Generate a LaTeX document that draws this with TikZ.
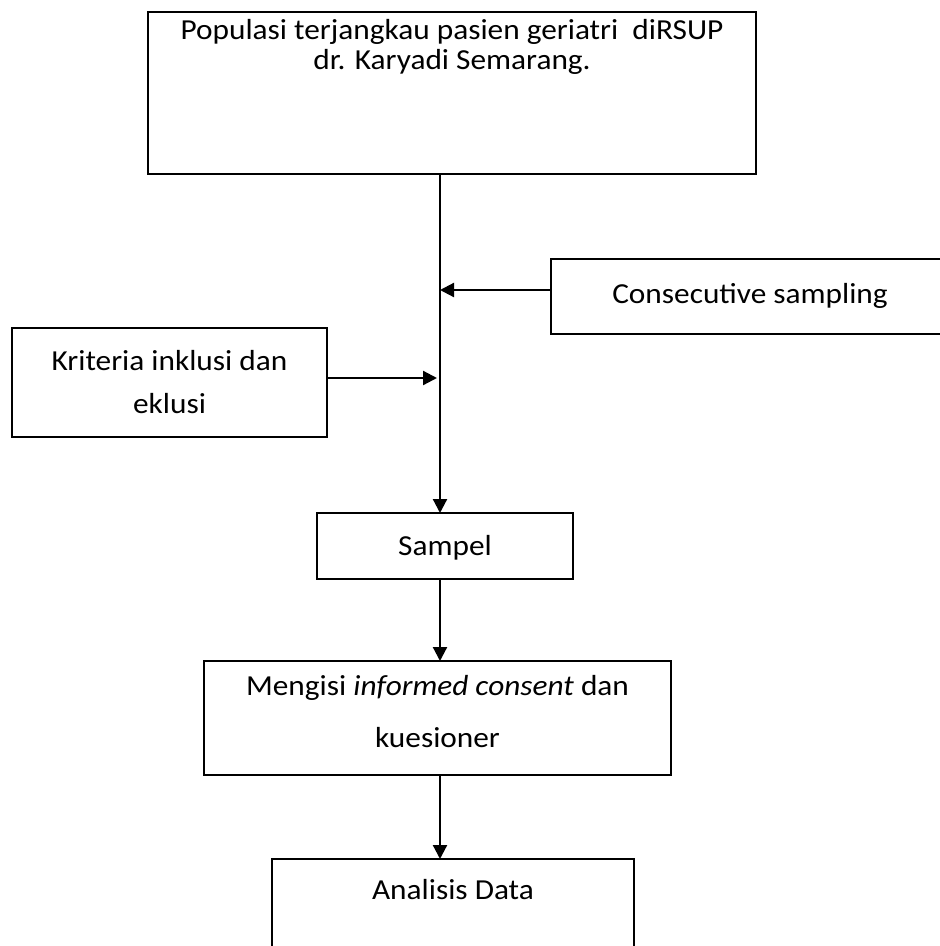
\documentclass[tikz,border=0pt]{standalone}
\usepackage{fontspec}
\setmainfont{Carlito}[FakeStretch=1.08]
\usetikzlibrary{arrows.meta,calc}
\begin{document}
\begin{tikzpicture}[x=1pt,y=-1pt,
  box/.style={draw=black,line width=1.8pt},
  txt/.style={align=center,inner sep=0pt,anchor=base},
  arr/.style={line width=2.2pt,-{Triangle[length=14pt,width=14pt]}}]
\useasboundingbox (0,0) rectangle (940,946);
\tikzset{every node/.append style={font=\fontsize{29}{29}\selectfont}}
% top box
\draw[box] (148,12) rectangle (756,174);
\node[txt,font=\fontsize{29}{30}\selectfont] (toptxt) at (452,69) {Populasi terjangkau pasien geriatri\ \ diRSUP\\dr. Karyadi Semarang.};
\coordinate (topb) at (440,174);
% consecutive sampling
\draw[box] (980,259) -- (551,259) -- (551,334) -- (980,334);
\coordinate (consL) at (551,290);
\node[txt] (cons) at (750,303) {Consecutive sampling};
\coordinate (consT) at (440,290);
% kriteria
\draw[box] (12,328) rectangle (327,437);
\node[txt,font=\fontsize{29}{43}\selectfont] (krit) at (169.5,413) {Kriteria inklusi dan\\eklusi};
\coordinate (kritR) at (327,378);
\coordinate (kritT) at (437,378);
% sampel
\draw[box] (317,513) rectangle (573,579);
\coordinate (samT) at (440,513);
\coordinate (samB) at (440,579);
\node[txt] (sampel) at (445,555) {Sampel};
% mengisi
\draw[box] (204,661) rectangle (671,775);
\coordinate (mengT) at (440,661);
\coordinate (mengB) at (440,775);
\node[txt,font=\fontsize{29}{52}\selectfont] (meng) at (437.5,747) {Mengisi \textit{informed consent} dan\\kuesioner};
% analisis
\draw[box] (272,1000) -- (272,859) -- (634,859) -- (634,1000);
\coordinate (anaT) at (440,859);
\node[txt] (ana) at (453,899) {Analisis Data};
% connectors
\draw[arr] (topb) -- (samT);
\draw[arr] (consL) -- (consT);
\draw[arr] (kritR) -- (kritT);
\draw[arr] (samB) -- (mengT);
\draw[arr] (mengB) -- (anaT);
\end{tikzpicture}
\end{document}
